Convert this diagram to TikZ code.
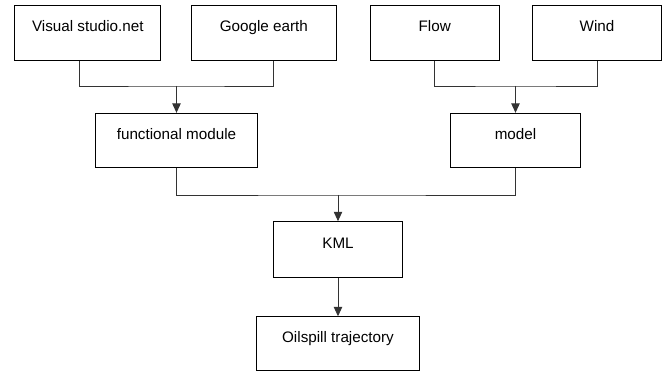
\documentclass[tikz,border=0pt]{standalone}
\usepackage{fontspec}
\setmainfont{Liberation Sans}
\usepackage{tikz}
\usetikzlibrary{arrows.meta,positioning,calc}
\tikzset{
  bbox/.style={rectangle,draw,line width=0.8pt,minimum height=1.64cm,inner sep=2pt,
    font=\fontsize{13}{15}\selectfont,text height=0.4cm,text depth=0.456cm},
  fe/.style={line width=0.8pt,draw=black!80},
  fa/.style={fe,-{Triangle[length=2.8mm,width=2.5mm]}}
}

\begin{document}
\begin{tikzpicture}[x=0.03cm,y=-0.03cm]
\useasboundingbox (0,0) rectangle (667,371);
% inputs
\node[bbox, minimum width=4.37cm] (vs) at (87.8,32.7) {Visual studio.net};
\node[bbox, minimum width=4.33cm] (ge) at (263.8,32.7) {Google earth};
\node[bbox, minimum width=3.88cm] (flow) at (434.7,32.7) {Flow};
\node[bbox, minimum width=3.88cm] (wind) at (597,32.7) {Wind};
% middle
\node[bbox, minimum width=4.85cm, minimum height=1.62cm] (fm) at (176.5,140.3) {functional module};
\node[bbox, minimum width=3.88cm, minimum height=1.62cm] (model) at (515.5,140.3) {model};
% output
\node[bbox, minimum width=3.88cm, minimum height=1.67cm] (kml) at (338,249.5) {KML};
\node[bbox, minimum width=4.88cm, minimum height=1.61cm] (oil) at (338,343.6) {Oilspill trajectory};
% joins
\coordinate (ja) at (176.5,86);
\coordinate (jb) at (515.5,86);
\coordinate (jc) at (338,195);
\draw[fe] ([xshift=-0.26cm]vs.south) |- (ja) -| ([xshift=0.28cm]ge.south);
\draw[fa] (ja) -- (ja |- fm.north);
\draw[fe] (flow.south) |- (jb) -| (wind.south);
\draw[fa] (jb) -- (jb |- model.north);
\draw[fe] (fm.south) |- (jc) -| (model.south);
\draw[fa] (jc) -- (jc |- kml.north);
\draw[fa] (kml) -- (oil);
\end{tikzpicture}
\end{document}
